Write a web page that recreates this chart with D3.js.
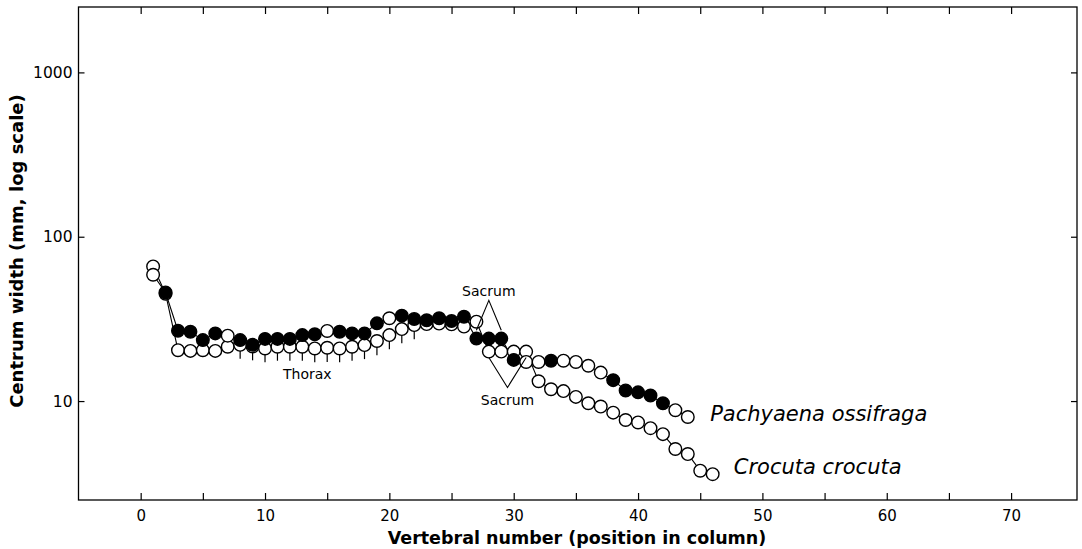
<!DOCTYPE html>
<html lang="en">

<head>
    <meta charset="utf-8">
    <title>Centrum width along the vertebral column</title>
    <script src="https://d3js.org/d3.v7.min.js"></script>
    <style type="text/css">
        body {
            margin: 0;
            background: #fff;
        }

        svg {
            display: block;
            font-family: "DejaVu Sans", sans-serif;
        }
    </style>
</head>

<body>
    <script type="text/javascript">

        //values (centrum width in mm, per vertebra)
        const pachyaenaVertebra = [1, 2, 3, 4, 5, 6, 7, 8, 9, 10, 11, 12, 13, 14, 15, 16, 17, 18, 19, 20, 21, 22,
            23, 24, 25, 26, 27, 28, 29, 30, 31, 32, 33, 34, 35, 36, 37, 38, 39, 40, 41, 42, 43, 44];
        const pachyaenaWidth = [58.7, 45.8, 26.8, 26.4, 23.5, 25.8, 25.0, 23.5, 22.0, 23.9, 23.9, 23.9, 25.2, 25.5,
            26.7, 26.4, 25.8, 25.8, 29.7, 31.9, 33.1, 31.6, 31.0, 31.9, 30.7, 32.6, 24.0, 24.0, 24.0, 17.8,
            17.3, 17.3, 17.6, 17.6, 17.3, 16.4, 14.9, 13.4, 11.6, 11.3, 10.8, 9.7, 8.8, 8.0];
        //vertebrae drawn with an open marker in the Pachyaena series
        const pachyaenaOpen = [1, 7, 15, 20, 31, 32, 34, 35, 36, 37, 43, 44];

        const crocutaVertebra = [1, 2, 3, 4, 5, 6, 7, 8, 9, 10, 11, 12, 13, 14, 15, 16, 17, 18, 19, 20, 21, 22,
            23, 24, 25, 26, 27, 28, 29, 30, 31, 32, 33, 34, 35, 36, 37, 38, 39, 40, 41, 42, 43, 44, 45, 46];
        const crocutaWidth = [66, 45, 20.4, 20.2, 20.4, 20.2, 21.4, 22.0, 21.5, 20.9, 21.4, 21.4, 21.4, 20.9, 21.1,
            20.9, 21.4, 21.9, 23.2, 25.2, 27.4, 29.0, 29.4, 29.6, 29.3, 28.4, 30.4, 20.0, 20.0, 20.0, 20.0,
            13.2, 11.8, 11.5, 10.6, 9.7, 9.26, 8.5, 7.67, 7.41, 6.84, 6.29, 5.11, 4.76, 3.77, 3.59];

        //error bars (lower end) on the Crocuta thoracic vertebrae
        const crocutaBarVertebra = [8, 9, 10, 11, 12, 13, 14, 15, 16, 17, 18, 19, 20, 21, 22];
        const crocutaBarLow = [18.1, 17.7, 17.2, 17.6, 17.6, 17.6, 17.2, 17.3, 17.2, 17.6, 18.0, 19.0, 20.7, 22.5, 23.8];

        const xTicks = [0, 5, 10, 15, 20, 25, 30, 35, 40, 45, 50, 55, 60, 65, 70];
        const yTicks = [10, 100, 1000];

        //svg information
        const width = 1082;
        const height = 549;
        const box = { left: 78.5, right: 1077, top: 7, bottom: 500 };

        const svg = d3.select("body")
            .append("svg")
            .attr("width", width)
            .attr("height", height);

        //scales
        const x = d3.scaleLinear()
            .domain([-5, 75.3])
            .range([box.left, box.right]);

        const y = d3.scaleLog()
            .domain([2.5, 2500])
            .range([box.bottom, box.top]);

        //axes: ticks point into the frame on all four sides
        function styleAxis(g, size) {
            g.select(".domain").remove();
            g.attr("font-family", "DejaVu Sans, sans-serif").attr("font-size", size);
            g.selectAll(".tick line").attr("stroke", "#000").attr("stroke-width", 1.2);
            g.selectAll(".tick text").attr("fill", "#000");
        }

        svg.append("g")
            .attr("transform", `translate(0,${box.bottom})`)
            .call(d3.axisBottom(x).tickValues(xTicks).tickSize(-7).tickPadding(10)
                .tickFormat(d => d % 10 === 0 ? d : ""))
            .call(g => styleAxis(g, 15));

        svg.append("g")
            .attr("transform", `translate(0,${box.top})`)
            .call(d3.axisTop(x).tickValues(xTicks).tickSize(-7).tickFormat(""))
            .call(g => styleAxis(g, 15));

        svg.append("g")
            .attr("transform", `translate(${box.left},0)`)
            .call(d3.axisLeft(y).tickValues(yTicks).tickSize(-6).tickPadding(6).tickFormat(d3.format("d")))
            .call(g => styleAxis(g, 15.5));

        svg.append("g")
            .attr("transform", `translate(${box.right},0)`)
            .call(d3.axisRight(y).tickValues(yTicks).tickSize(-6).tickFormat(""))
            .call(g => styleAxis(g, 15));

        //frame
        svg.append("rect")
            .attr("x", box.left)
            .attr("y", box.top)
            .attr("width", box.right - box.left)
            .attr("height", box.bottom - box.top)
            .attr("fill", "none")
            .attr("stroke", "#000")
            .attr("stroke-width", 1.3);

        //axis titles
        svg.append("text")
            .attr("x", 577)
            .attr("y", 544)
            .attr("text-anchor", "middle")
            .attr("font-size", 17.5)
            .attr("font-weight", "bold")
            .text("Vertebral number (position in column)");

        svg.append("text")
            .attr("transform", "translate(17,251) rotate(-90)")
            .attr("dy", "0.36em")
            .attr("text-anchor", "middle")
            .attr("font-size", 18)
            .attr("font-weight", "bold")
            .text("Centrum width (mm, log scale)");

        //data
        const pachyaena = pachyaenaVertebra.map((v, i) => ({ v: v, w: pachyaenaWidth[i], open: pachyaenaOpen.includes(v) }));
        const crocuta = crocutaVertebra.map((v, i) => ({ v: v, w: crocutaWidth[i] }));
        const bars = crocutaBarVertebra.map((v, i) => ({ v: v, low: crocutaBarLow[i], w: crocutaWidth[crocutaVertebra.indexOf(v)] }));

        const line = d3.line().x(d => x(d.v)).y(d => y(d.w));

        const g = svg.append("g");

        g.append("path")
            .datum(crocuta)
            .attr("d", line)
            .attr("fill", "none")
            .attr("stroke", "#000")
            .attr("stroke-width", 1.1);

        g.append("path")
            .datum(pachyaena)
            .attr("d", line)
            .attr("fill", "none")
            .attr("stroke", "#000")
            .attr("stroke-width", 1.1);

        g.selectAll(".bar")
            .data(bars)
            .join("line")
            .attr("class", "bar")
            .attr("x1", d => x(d.v))
            .attr("x2", d => x(d.v))
            .attr("y1", d => y(d.w))
            .attr("y2", d => y(d.low))
            .attr("stroke", "#000")
            .attr("stroke-width", 1.2);

        const r = 6.3;

        //Crocuta markers first, Pachyaena drawn over them
        g.selectAll(".croc")
            .data(crocuta)
            .join("circle")
            .attr("class", "croc")
            .attr("cx", d => x(d.v))
            .attr("cy", d => y(d.w))
            .attr("r", r)
            .attr("fill", "#fff")
            .attr("stroke", "#000")
            .attr("stroke-width", 1.4);

        g.selectAll(".pach")
            .data(pachyaena)
            .join("circle")
            .attr("class", "pach")
            .attr("cx", d => x(d.v))
            .attr("cy", d => y(d.w))
            .attr("r", r)
            .attr("fill", d => d.open ? "#fff" : "#000")
            .attr("stroke", "#000")
            .attr("stroke-width", 1.4);

        //sacrum brackets (data coordinates)
        const bracket = d3.line().x(d => x(d[0])).y(d => y(d[1]));
        const sacrumUpper = [[27, 27], [28, 41], [29, 27]];
        const sacrumLower = [[28, 18.4], [29.5, 12.1], [31, 18.4]];

        [sacrumUpper, sacrumLower].forEach(pts => {
            svg.append("path")
                .attr("d", bracket(pts))
                .attr("fill", "none")
                .attr("stroke", "#000")
                .attr("stroke-width", 1.1);
        });

        //annotations
        const notes = [
            { text: "Sacrum", v: 28, w: 41, dy: -4, size: 14 },
            { text: "Sacrum", v: 29.5, w: 12.1, dy: 18, size: 14 },
            { text: "Thorax", v: 13.4, w: 13.6, dy: 0, size: 14 }
        ];

        svg.selectAll(".note")
            .data(notes)
            .join("text")
            .attr("class", "note")
            .attr("x", d => x(d.v))
            .attr("y", d => y(d.w) + d.dy)
            .attr("text-anchor", "middle")
            .attr("font-size", d => d.size)
            .text(d => d.text);

        const species = [
            { text: "Pachyaena ossifraga", v: 45.8, w: 7.6 },
            { text: "Crocuta crocuta", v: 47.7, w: 3.6 }
        ];

        svg.selectAll(".species")
            .data(species)
            .join("text")
            .attr("class", "species")
            .attr("x", d => x(d.v))
            .attr("y", d => y(d.w))
            .attr("font-size", 21)
            .attr("font-style", "italic")
            .text(d => d.text);

    </script>
</body>

</html>
